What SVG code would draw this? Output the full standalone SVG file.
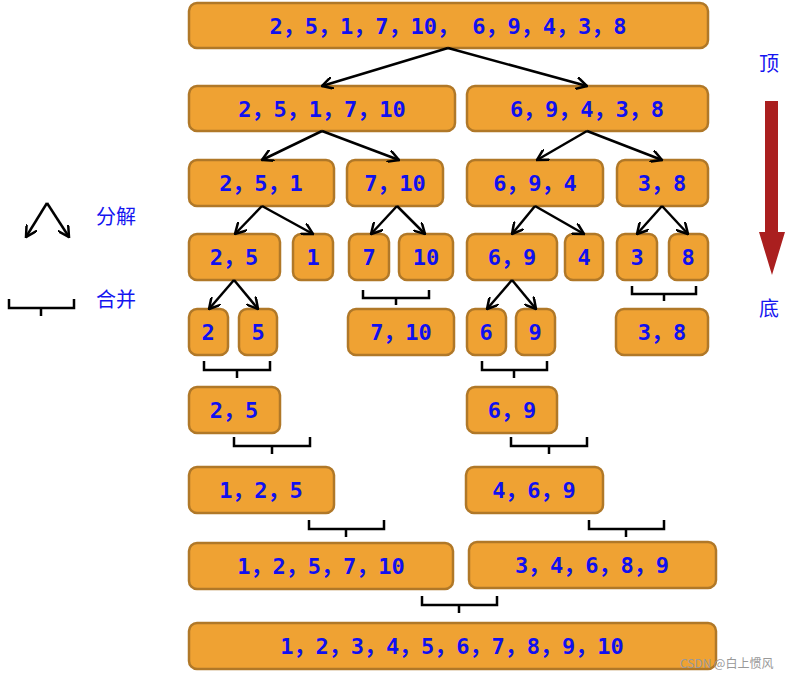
<svg xmlns="http://www.w3.org/2000/svg" width="809" height="680" viewBox="0 0 809 680">
<style>
.b{fill:#EFA233;stroke:#B07828;stroke-width:2.5}
.t{font-family:"DejaVu Sans Mono","Liberation Mono","Noto Sans CJK SC",monospace;font-weight:bold;font-size:22px;fill:#1010F0;text-anchor:middle;dominant-baseline:central}
.c line,.c path{stroke:#000;stroke-width:2.5;fill:none}
.c line{marker-end:url(#a)}
.k{font-family:"Noto Sans CJK SC",sans-serif;font-size:20px;fill:#1515F0}
</style>
<defs><marker id="a" viewBox="0 0 10 10" refX="9" refY="5" markerWidth="5" markerHeight="5" orient="auto" markerUnits="strokeWidth"><path d="M0,0 L9,5 L0,10" fill="none" stroke="#000" stroke-width="2"/></marker></defs>
<g id="nodes">
<g id="n1"><rect class="b" x="189" y="3" width="519" height="45" rx="8"/><text class="t" x="448" y="26">2，5，1，7，10， 6，9，4，3，8</text></g>
<g id="n2a"><rect class="b" x="189" y="86" width="266" height="45" rx="8"/><text class="t" x="322" y="109">2，5，1，7，10</text></g>
<g id="n2b"><rect class="b" x="467" y="86" width="241" height="45" rx="8"/><text class="t" x="587" y="109">6，9，4，3，8</text></g>
<g id="n3a"><rect class="b" x="189" y="160" width="145" height="46" rx="8"/><text class="t" x="261" y="183">2，5，1</text></g>
<g id="n3b"><rect class="b" x="347" y="160" width="96" height="46" rx="8"/><text class="t" x="395" y="183">7，10</text></g>
<g id="n3c"><rect class="b" x="467" y="160" width="136" height="46" rx="8"/><text class="t" x="535" y="183">6，9，4</text></g>
<g id="n3d"><rect class="b" x="617" y="160" width="91" height="46" rx="8"/><text class="t" x="662" y="183">3，8</text></g>
<g id="n4a"><rect class="b" x="189" y="234" width="91" height="46" rx="8"/><text class="t" x="234" y="257">2，5</text></g>
<g id="n4b"><rect class="b" x="293" y="234" width="40" height="46" rx="8"/><text class="t" x="313" y="257">1</text></g>
<g id="n4c"><rect class="b" x="349" y="234" width="40" height="46" rx="8"/><text class="t" x="369" y="257">7</text></g>
<g id="n4d"><rect class="b" x="399" y="234" width="54" height="46" rx="8"/><text class="t" x="426" y="257">10</text></g>
<g id="n4e"><rect class="b" x="467" y="234" width="90" height="46" rx="8"/><text class="t" x="512" y="257">6，9</text></g>
<g id="n4f"><rect class="b" x="565" y="234" width="38" height="46" rx="8"/><text class="t" x="584" y="257">4</text></g>
<g id="n4g"><rect class="b" x="617" y="234" width="40" height="46" rx="8"/><text class="t" x="637" y="257">3</text></g>
<g id="n4h"><rect class="b" x="669" y="234" width="39" height="46" rx="8"/><text class="t" x="688" y="257">8</text></g>
<g id="n5a"><rect class="b" x="189" y="309" width="39" height="46" rx="8"/><text class="t" x="208" y="332">2</text></g>
<g id="n5b"><rect class="b" x="239" y="309" width="38" height="46" rx="8"/><text class="t" x="258" y="332">5</text></g>
<g id="n5c"><rect class="b" x="348" y="309" width="106" height="46" rx="8"/><text class="t" x="401" y="332">7，10</text></g>
<g id="n5d"><rect class="b" x="467" y="309" width="39" height="46" rx="8"/><text class="t" x="486" y="332">6</text></g>
<g id="n5e"><rect class="b" x="516" y="309" width="39" height="46" rx="8"/><text class="t" x="535" y="332">9</text></g>
<g id="n5f"><rect class="b" x="616" y="309" width="92" height="46" rx="8"/><text class="t" x="662" y="332">3，8</text></g>
<g id="n6a"><rect class="b" x="189" y="387" width="91" height="46" rx="8"/><text class="t" x="234" y="410">2，5</text></g>
<g id="n6b"><rect class="b" x="467" y="387" width="90" height="46" rx="8"/><text class="t" x="512" y="410">6，9</text></g>
<g id="n7a"><rect class="b" x="189" y="467" width="145" height="46" rx="8"/><text class="t" x="261" y="490">1，2，5</text></g>
<g id="n7b"><rect class="b" x="466" y="467" width="137" height="46" rx="8"/><text class="t" x="534" y="490">4，6，9</text></g>
<g id="n8a"><rect class="b" x="189" y="543" width="264" height="46" rx="8"/><text class="t" x="321" y="566">1，2，5，7，10</text></g>
<g id="n8b"><rect class="b" x="469" y="542" width="247" height="46" rx="8"/><text class="t" x="592" y="565">3，4，6，8，9</text></g>
<g id="n9"><rect class="b" x="189" y="623" width="527" height="46" rx="8"/><text class="t" x="452" y="646">1，2，3，4，5，6，7，8，9，10</text></g>
</g>
<g id="connectors" class="c">
<line x1="448" y1="48" x2="322" y2="86"/><line x1="448" y1="48" x2="587" y2="86"/>
<line x1="322" y1="131" x2="262" y2="160"/><line x1="322" y1="131" x2="399" y2="160"/>
<line x1="587" y1="131" x2="537" y2="160"/><line x1="587" y1="131" x2="662" y2="160"/>
<line x1="262" y1="206" x2="235" y2="234"/><line x1="262" y1="206" x2="313" y2="234"/>
<line x1="397" y1="206" x2="371" y2="234"/><line x1="397" y1="206" x2="425" y2="234"/>
<line x1="535" y1="206" x2="512" y2="234"/><line x1="535" y1="206" x2="584" y2="234"/>
<line x1="662" y1="206" x2="637" y2="234"/><line x1="662" y1="206" x2="688" y2="234"/>
<line x1="234" y1="280" x2="209" y2="309"/><line x1="234" y1="280" x2="258" y2="309"/>
<line x1="512" y1="280" x2="487" y2="309"/><line x1="512" y1="280" x2="536" y2="309"/>
<path d="M363,290v8h66v-8M396,298v7"/>
<path d="M632,286v8h64v-8M664,294v7"/>
<path d="M204,361v9h66v-9M237,370v8"/>
<path d="M482,361v9h65v-9M514,370v8"/>
<path d="M234,437v9h76v-9M272,446v8"/>
<path d="M511,437v9h76v-9M549,446v8"/>
<path d="M309,520v9h75v-9M346,529v8"/>
<path d="M589,520v9h75v-9M626,529v8"/>
<path d="M422,596v9h75v-9M459,605v8"/>
<line x1="47" y1="203" x2="26" y2="237"/><line x1="47" y1="203" x2="69" y2="237"/>
<path d="M9,299v9h65v-9M41,308v8"/>
</g>
<text class="k" x="96" y="224">分解</text>
<text class="k" x="96" y="307">合并</text>
<text class="k" x="759" y="71">顶</text>
<text class="k" x="759" y="316">底</text>
<path d="M765,101h13v131h7l-13,43l-13,-43h6z" fill="#AA1F1F"/>
<text x="680" y="668" font-family="Noto Sans CJK SC,sans-serif" font-size="12" fill="#999">CSDN @白上惯风</text>
</svg>
